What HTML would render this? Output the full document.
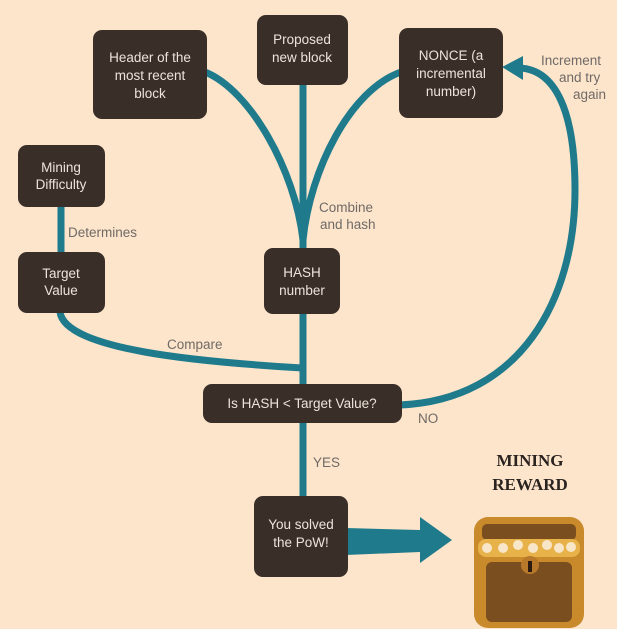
<!DOCTYPE html>
<html><head><meta charset="utf-8"><style>
html,body{margin:0;padding:0;background:#fde5cc;}
svg{display:block}
.b{fill:#3a2e28;}
.t{font-family:"Liberation Sans",sans-serif;font-size:13.5px;fill:#ece4da;text-anchor:middle;}
.l{font-family:"Liberation Sans",sans-serif;font-size:13.5px;fill:#6f6a66;}
.c{fill:none;stroke:#1f7b8c;stroke-width:7;}
</style></head><body>
<svg width="617" height="629" viewBox="0 0 617 629">
<rect width="617" height="629" fill="#fde5cc"/>
<path class="c" d="M205,72 C250,90 295,170 303,240"/>
<path class="c" d="M303,84 L303,496"/>
<path class="c" d="M401,72 C350,90 310,170 303,240"/>
<path class="c" d="M60,312 C65,350 200,362 303,368"/>
<path class="c" d="M400,405 C520,400 575,300 575,190 C575,110 555,70 520,68"/>
<polygon points="502,67 523,56 523,80" fill="#1f7b8c"/>
<polygon points="346,528 420,530 420,517 452,540 420,563 420,552 346,555" fill="#1f7b8c"/>
<rect class="b" x="93" y="30" width="114" height="89" rx="9"/>
<text class="t" x="150" y="62">Header of the</text><text class="t" x="150" y="80">most recent</text><text class="t" x="150" y="98">block</text>
<rect class="b" x="257" y="15" width="91" height="70" rx="9"/>
<text class="t" x="302" y="44">Proposed</text><text class="t" x="302" y="62">new block</text>
<rect class="b" x="399" y="28" width="104" height="90" rx="9"/>
<text class="t" x="451" y="60">NONCE (a</text><text class="t" x="451" y="78">incremental</text><text class="t" x="451" y="96">number)</text>
<rect class="b" x="18" y="145" width="87" height="62" rx="9"/>
<text class="t" x="61" y="172">Mining</text><text class="t" x="61" y="189">Difficulty</text>
<path class="c" d="M61,207 L61,252"/>
<rect class="b" x="18" y="252" width="87" height="61" rx="9"/>
<text class="t" x="61" y="278">Target</text><text class="t" x="61" y="295">Value</text>
<rect class="b" x="264" y="248" width="76" height="66" rx="9"/>
<text class="t" x="302" y="277">HASH</text><text class="t" x="302" y="295">number</text>
<rect class="b" x="203" y="384" width="199" height="39" rx="9"/>
<text class="t" x="302" y="408">Is HASH &lt; Target Value?</text>
<rect class="b" x="254" y="496" width="94" height="81" rx="9"/>
<text class="t" x="301" y="529">You solved</text><text class="t" x="301" y="547">the PoW!</text>
<text class="l" x="68" y="237">Determines</text>
<text class="l" x="319" y="212">Combine</text><text class="l" x="320" y="229">and hash</text>
<text class="l" x="167" y="349">Compare</text>
<text class="l" x="418" y="423">NO</text>
<text class="l" x="313" y="467">YES</text>
<text class="l" x="541" y="65">Increment</text><text class="l" x="559" y="82">and try</text><text class="l" x="573" y="99">again</text>
<text x="530" y="466" font-family="Liberation Serif,serif" font-weight="bold" font-size="17" fill="#2a231f" text-anchor="middle">MINING</text>
<text x="530" y="490" font-family="Liberation Serif,serif" font-weight="bold" font-size="17" fill="#2a231f" text-anchor="middle">REWARD</text>
<rect x="474" y="517" width="110" height="111" rx="14" fill="#c98a2c"/>
<rect x="482" y="524" width="94" height="16" rx="5" fill="#7a4e1e"/>
<rect x="478" y="539" width="102" height="18" rx="8" fill="#e8b24a"/>
<g fill="#f8e6c8"><circle cx="487" cy="548" r="5"/><circle cx="503" cy="548" r="5"/><circle cx="518" cy="545" r="5"/><circle cx="533" cy="548" r="5"/><circle cx="547" cy="545" r="5"/><circle cx="559" cy="548" r="5"/><circle cx="571" cy="547" r="5"/></g>
<rect x="486" y="562" width="86" height="60" rx="6" fill="#7a4e1e"/>
<circle cx="530" cy="565" r="9" fill="#b8792a"/>
<rect x="528" y="561" width="4" height="11" fill="#2a1a10"/>
</svg>
</body></html>
